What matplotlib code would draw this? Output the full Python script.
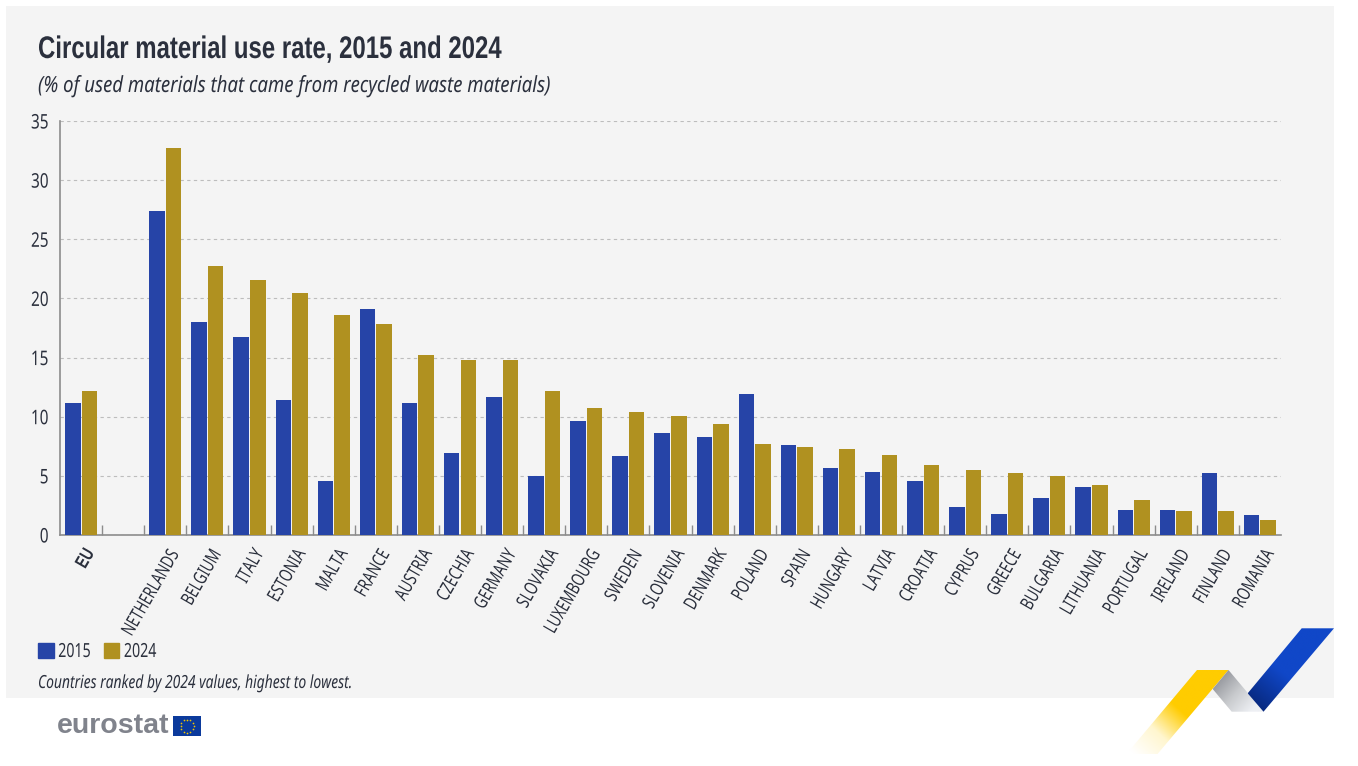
"""Circular material use rate, 2015 and 2024 (Eurostat style bar chart)."""

import matplotlib

matplotlib.use("Agg")
import matplotlib.pyplot as plt  # noqa: E402
import numpy as np  # noqa: E402
from matplotlib.colors import LinearSegmentedColormap  # noqa: E402
from matplotlib.patches import Patch, Polygon, Rectangle  # noqa: E402
from matplotlib.patheffects import AbstractPathEffect  # noqa: E402
from matplotlib.transforms import Affine2D, ScaledTranslation  # noqa: E402

W, H = 1358, 766

# --- Data -------------------------------------------------------------

COUNTRIES = [
    "EU", "", "NETHERLANDS", "BELGIUM", "ITALY", "ESTONIA", "MALTA", "FRANCE",
    "AUSTRIA", "CZECHIA", "GERMANY", "SLOVAKIA", "LUXEMBOURG", "SWEDEN",
    "SLOVENIA", "DENMARK", "POLAND", "SPAIN", "HUNGARY", "LATVIA", "CROATIA",
    "CYPRUS", "GREECE", "BULGARIA", "LITHUANIA", "PORTUGAL", "IRELAND",
    "FINLAND", "ROMANIA",
]
VALUES_2015 = [
    11.2, np.nan, 27.4, 18.0, 16.7, 11.4, 4.6, 19.1, 11.2, 6.9, 11.7, 5.0, 9.6,
    6.7, 8.6, 8.3, 11.9, 7.6, 5.7, 5.3, 4.6, 2.4, 1.8, 3.1, 4.1, 2.1, 2.1, 5.2, 1.7,
]
VALUES_2024 = [
    12.2, np.nan, 32.7, 22.7, 21.6, 20.5, 18.6, 17.8, 15.2, 14.8, 14.8, 12.2, 10.7,
    10.4, 10.1, 9.4, 7.7, 7.4, 7.3, 6.8, 5.9, 5.5, 5.2, 5.0, 4.2, 3.0, 2.0, 2.0, 1.3,
]
Y_TICKS = [0, 5, 10, 15, 20, 25, 30, 35]

BLUE = "#2644a7"
GOLD = "#b09120"
INK = "#2b303d"
BOLD_FONT = ["Liberation Sans", "DejaVu Sans"]  # Noto Sans has no bold face here

plt.rcParams["font.family"] = ["Noto Sans", "DejaVu Sans"]


class Narrow(AbstractPathEffect):
    """Squeeze text along its baseline; no condensed face is installed."""

    def __init__(self, sx, right=False):
        super().__init__()
        self.sx = sx
        self.right = right

    def draw_path(self, renderer, gc, tpath, affine, rgbFace=None):
        # the text was laid out at full width, so keep a right anchor in place
        dx = tpath.get_extents().x1 * (1 - self.sx) if self.right else 0
        squeeze = Affine2D().scale(self.sx, 1).translate(dx, 0)
        renderer.draw_path(gc, tpath, squeeze + affine, rgbFace)


def gradient_poly(ax, pts, stops, start, end):
    """Fill a polygon with a linear gradient running from start to end (px)."""
    pts = np.array(pts, dtype=float)
    x0, x1 = pts[:, 0].min(), pts[:, 0].max()
    y0, y1 = pts[:, 1].min(), pts[:, 1].max()
    xx, yy = np.meshgrid(np.linspace(x0, x1, 200), np.linspace(y0, y1, 200))
    d = np.array(end, dtype=float) - np.array(start, dtype=float)
    t = ((xx - start[0]) * d[0] + (yy - start[1]) * d[1]) / (d @ d)
    cmap = LinearSegmentedColormap.from_list("g", stops)
    im = ax.imshow(np.clip(t, 0, 1), cmap=cmap, vmin=0, vmax=1, origin="lower",
                   extent=(x0, x1, y0, y1), aspect="auto", zorder=3)
    clip = Polygon(pts, closed=True, transform=ax.transData, fc="none", ec="none")
    ax.add_patch(clip)
    im.set_clip_path(clip)


def main() -> None:
    fig = plt.figure(figsize=(W / 100, H / 100), dpi=100, facecolor="white")

    # Background panel, logo and footer live in a full-figure pixel axes.
    bg = fig.add_axes([0, 0, 1, 1], zorder=0)
    bg.set_xlim(0, W)
    bg.set_ylim(H, 0)
    bg.axis("off")
    bg.add_patch(Rectangle((6, 6), 1328, 692, fc="#f4f4f4", ec="none"))

    gradient_poly(bg, [(1197, 670), (1228.5, 670), (1157.5, 754), (1126.5, 754)],
                  ["#ffcc00", "#ffcc00", "#fff6cf", "#ffffff"], (1205, 690), (1140, 760))
    gradient_poly(bg, [(1228.5, 670), (1263.5, 711.7), (1231.7, 711.7), (1212.7, 689)],
                  ["#92949a", "#c8cacd", "#eef0f4"], (1215, 680), (1250, 712))
    gradient_poly(bg, [(1301.7, 628.3), (1334, 628.3), (1263.5, 711.7), (1247.7, 693.3)],
                  ["#1047c8", "#1047c8", "#08297f"], (1310, 640), (1255, 705))

    bg.text(57, 726, "eurostat", fontsize=20.5, fontweight="bold", color="#80838c",
            family=BOLD_FONT, va="center", ha="left")
    bg.add_patch(Rectangle((173, 716), 28, 20, fc="#0b3a9c", ec="none"))
    angles = np.arange(12) * np.pi / 6
    bg.scatter(187 + 6.5 * np.cos(angles), 726 + 6.5 * np.sin(angles), s=1.5,
               color="#f2c500", linewidths=0)

    # Chart
    ax = fig.add_axes([60 / W, 1 - 535 / H, (1281 - 60) / W, (535 - 121) / H], zorder=2)
    ax.patch.set_alpha(0)
    x = np.arange(len(COUNTRIES)) + 0.5
    bar_w = 0.368
    ax.bar(x - 0.197, VALUES_2015, bar_w, color=BLUE, label="2015", zorder=3)
    ax.bar(x + 0.197, VALUES_2024, bar_w, color=GOLD, label="2024", zorder=3)

    ax.set_xlim(0, len(COUNTRIES))
    ax.set_ylim(0, 35)
    ax.set_yticks(Y_TICKS)
    ax.set_xticks(x)
    ax.set_xticklabels(COUNTRIES, rotation=60, ha="right", va="top",
                       rotation_mode="anchor", fontsize=13.5, color=INK)
    ax.set_xticks(np.arange(1, len(COUNTRIES)), minor=True)
    ax.tick_params(axis="x", which="major", length=0, pad=8)
    ax.tick_params(axis="x", which="minor", direction="in", length=7.2, width=1, color="#8c8c8c")
    ax.tick_params(axis="y", length=0, pad=8, labelsize=14.5, labelcolor=INK)
    nudge = ScaledTranslation(2.5 / 100, 0, fig.dpi_scale_trans)
    for t in ax.get_xticklabels():
        t.set_transform(t.get_transform() + nudge)
        t.set_path_effects([Narrow(0.73, right=True)])
    eu_label = ax.get_xticklabels()[0]
    eu_label.set_family(BOLD_FONT)
    eu_label.set_fontweight("bold")
    for t in ax.get_yticklabels():
        t.set_path_effects([Narrow(0.76, right=True)])
    ax.grid(axis="y", color="#bdbdbd", linestyle=(0, (3, 3)), linewidth=0.8, zorder=0)
    ax.set_axisbelow(True)
    for side in ("top", "right"):
        ax.spines[side].set_visible(False)
    for side in ("left", "bottom"):
        ax.spines[side].set_color("#8c8c8c")
        ax.spines[side].set_linewidth(1.2)

    title = fig.text(38 / W, 1 - 58 / H, "Circular material use rate, 2015 and 2024", fontsize=22.5,
                     fontweight="bold", family=BOLD_FONT, color=INK, ha="left", va="baseline")
    title.set_path_effects([Narrow(0.767)])
    sub = fig.text(38 / W, 1 - 92 / H, "(% of used materials that came from recycled waste materials)",
                   fontsize=16, style="italic", color=INK, ha="left", va="baseline")
    sub.set_path_effects([Narrow(0.836)])
    note = fig.text(38 / W, 1 - 688 / H, "Countries ranked by 2024 values, highest to lowest.",
                    fontsize=13, style="italic", color=INK, ha="left", va="baseline")
    note.set_path_effects([Narrow(0.767)])

    handles = [Patch(color=BLUE, label="2015"), Patch(color=GOLD, label="2024")]
    leg = fig.legend(handles=handles, loc="center left", bbox_to_anchor=(38 / W, 1 - 652 / H),
                     ncol=2, frameon=False, fontsize=14, labelcolor=INK, borderpad=0,
                     borderaxespad=0, handlelength=0.8, handleheight=0.8, handletextpad=0.24,
                     columnspacing=0.05)
    for t in leg.get_texts():
        t.set_path_effects([Narrow(0.73)])

    fig.savefig("out.png", dpi=100)


if __name__ == "__main__":
    main()
